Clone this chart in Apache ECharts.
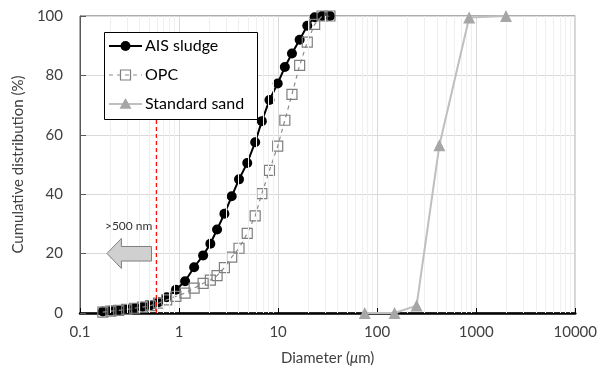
<!DOCTYPE html>
<html>
<head>
<meta charset="utf-8">
<script src="https://cdn.jsdelivr.net/npm/echarts@6/dist/echarts.min.js"></script>
<style>
  html, body { margin: 0; padding: 0; background: #ffffff; }
  #chart { width: 600px; height: 375px; }
</style>
</head>
<body>
<div id="chart"></div>
<script>
// Particle size bins (µm) of the laser diffraction measurement
const diameterBins = [0.17, 0.205, 0.246, 0.296, 0.356, 0.428, 0.515, 0.62, 0.75, 0.93,
  1.15, 1.42, 1.75, 2.07, 2.42, 2.87, 3.40, 4.03, 4.88, 5.87,
  6.85, 8.18, 9.91, 11.7, 13.8, 16.5, 19.7, 23.4, 27.8, 33.4];

// Cumulative passing (%) per bin
const aisSludge = [0.5, 0.8, 1.0, 1.3, 1.7, 2.1, 2.6, 3.6, 5.3, 7.8,
  10.7, 15.4, 19.4, 23.3, 28.1, 33.4, 39.3, 45.0, 50.5, 57.5,
  64.6, 71.7, 77.3, 82.8, 87.4, 92.0, 96.7, 99.6, 100, 100];
const opc = [0.3, 0.6, 0.9, 1.2, 1.6, 2.0, 2.5, 3.3, 4.4, 5.6,
  6.7, 8.4, 10.0, 11.1, 12.6, 15.3, 18.8, 21.8, 26.8, 32.7,
  40.2, 48.0, 56.2, 64.9, 73.6, 83.4, 91.2, 97.2, 100, 100];

// Standard sand sieve analysis
const sandSieve = [75, 150, 250, 425, 850, 2000];
const sandPassing = [0, 0, 2.5, 56.5, 99.5, 100];

// 500 nm marker line
const cutoffDiameter = 0.59;
const cutoffSpan = [0, 65];

// Axis settings
const xMin = 0.1, xMax = 10000;

// Light vertical lines at 2..9 of every decade
const minorLines = [];
for (let d = xMin; d < xMax; d *= 10) {
  for (let m = 2; m <= 9; m++) minorLines.push(+(d * m).toPrecision(3));
}

const pair = (xs, ys) => xs.map((x, i) => [x, ys[i]]);

const FONT = 'Lato';
const TEXT = '#404040';

// Series styles, shared by the plot and its legend
const styles = {
  ais: { symbol: 'circle', size: 10, fill: '#000000', stroke: null, line: '#000000', lineWidth: 2, dash: null },
  opc: { symbol: 'rect', size: 10, fill: 'rgba(255,255,255,0)', stroke: '#7f7f7f', line: '#8c8c8c', lineWidth: 1.2, dash: [4, 4] },
  sand: { symbol: 'triangle', size: 12, fill: '#a6a6a6', stroke: null, line: '#bfbfbf', lineWidth: 2, dash: null }
};

const chart = echarts.init(document.getElementById('chart'), null, { renderer: 'canvas' });

const option = {
  animation: false,
  textStyle: { fontFamily: FONT },
  grid: {
    left: 80, right: 22, top: 16, bottom: 62,
    show: true, borderColor: '#595959', borderWidth: 1, backgroundColor: 'transparent'
  },
  xAxis: {
    type: 'log', logBase: 10, min: xMin, max: xMax,
    name: 'Diameter ({i|μ}m)',
    nameLocation: 'middle', nameGap: 38,
    nameTextStyle: {
      fontFamily: FONT, fontSize: 15, color: TEXT,
      rich: { i: { fontFamily: FONT, fontSize: 15, fontStyle: 'italic', color: TEXT } }
    },
    axisLine: { onZero: false, lineStyle: { color: '#000000', width: 2.5 } },
    axisTick: { inside: true, length: 5, lineStyle: { color: '#000000' } },
    axisLabel: {
      margin: 12, fontFamily: FONT, fontSize: 15, color: TEXT,
      formatter: v => String(+v.toPrecision(6))
    },
    splitLine: { show: true, lineStyle: { color: '#d9d9d9', width: 1 } }
  },
  yAxis: {
    type: 'value', min: 0, max: 100, interval: 20,
    name: 'Cumulative distribution (%)',
    nameLocation: 'middle', nameGap: 52,
    nameTextStyle: { fontFamily: FONT, fontSize: 15, color: TEXT },
    axisLine: { show: true, lineStyle: { color: '#595959', width: 1 } },
    axisTick: { show: true, inside: true, length: 6, lineStyle: { color: '#595959' } },
    axisLabel: { margin: 17, fontFamily: FONT, fontSize: 15, color: TEXT },
    splitLine: { show: true, lineStyle: { color: '#d9d9d9', width: 1 } }
  },
  series: [
    {
      name: 'minor-grid', type: 'line', data: [], silent: true, z: 1,
      markLine: {
        silent: true, symbol: 'none', label: { show: false },
        lineStyle: { color: '#efefef', type: 'solid', width: 1 },
        emphasis: { disabled: true },
        data: minorLines.map(v => ({ xAxis: v }))
      }
    },
    {
      name: 'AIS sludge', type: 'line', z: 3,
      data: pair(diameterBins, aisSludge),
      symbol: styles.ais.symbol, symbolSize: styles.ais.size,
      itemStyle: { color: styles.ais.fill },
      lineStyle: { color: styles.ais.line, width: styles.ais.lineWidth }
    },
    {
      name: 'OPC', type: 'line', z: 4,
      data: pair(diameterBins, opc),
      symbol: styles.opc.symbol, symbolSize: styles.opc.size,
      itemStyle: { color: styles.opc.fill, borderColor: styles.opc.stroke, borderWidth: 1.2 },
      lineStyle: { color: styles.opc.line, width: styles.opc.lineWidth, type: styles.opc.dash }
    },
    {
      name: 'Standard sand', type: 'line', z: 5,
      data: pair(sandSieve, sandPassing),
      symbol: styles.sand.symbol, symbolSize: styles.sand.size,
      itemStyle: { color: styles.sand.fill },
      lineStyle: { color: styles.sand.line, width: styles.sand.lineWidth }
    },
    {
      name: 'cutoff', type: 'line', z: 6, silent: true,
      data: cutoffSpan.map(y => [cutoffDiameter, y]),
      symbol: 'none',
      lineStyle: { color: '#ff0000', width: 1.2, type: [4, 3] }
    }
  ]
};
chart.setOption(option);

// Block arrow pointing towards the finer fraction, placed in data coordinates
const arrowX = [0.187, 0.262, 0.527];        // tip, head base, tail
const arrowY = [15.0, 17.5, 22.4, 25.1];     // head bottom, shaft bottom, shaft top, head top
const P = (x, y) => chart.convertToPixel({ gridIndex: 0 }, [x, y]);
const arrowPts = [
  P(arrowX[0], (arrowY[0] + arrowY[3]) / 2),
  P(arrowX[1], arrowY[3]),
  P(arrowX[1], arrowY[2]),
  P(arrowX[2], arrowY[2]),
  P(arrowX[2], arrowY[1]),
  P(arrowX[1], arrowY[1]),
  P(arrowX[1], arrowY[0])
];
const labelPos = P(0.31, 29.1);

// Boxed legend: line sample with marker, then the series name
const legendItems = [
  { name: 'AIS sludge', s: styles.ais },
  { name: 'OPC', s: styles.opc },
  { name: 'Standard sand', s: styles.sand }
];
const legendBox = { x: 104, y: 32, w: 153, h: 87 };
const rowGap = 29, iconW = 33;
const legendGraphics = [{
  type: 'rect', z: 20,
  shape: { x: legendBox.x + 0.5, y: legendBox.y + 0.5, width: legendBox.w, height: legendBox.h },
  style: { fill: '#ffffff', stroke: '#000000', lineWidth: 1 }
}];
legendItems.forEach((it, i) => {
  const cy = legendBox.y + 14 + i * rowGap;
  const x0 = legendBox.x + 5, x1 = x0 + iconW, cx = (x0 + x1) / 2;
  const s = it.s;
  legendGraphics.push({
    type: 'line', z: 21,
    shape: { x1: x0, y1: cy, x2: x1, y2: cy },
    style: { stroke: s.line, lineWidth: s.lineWidth, lineDash: s.dash || null }
  });
  const h = s.size / 2;
  if (s.symbol === 'circle') {
    legendGraphics.push({ type: 'circle', z: 22, shape: { cx, cy, r: h }, style: { fill: s.fill } });
  } else if (s.symbol === 'rect') {
    legendGraphics.push({ type: 'rect', z: 22, shape: { x: cx - h, y: cy - h, width: s.size, height: s.size },
      style: { fill: 'rgba(255,255,255,0)', stroke: s.stroke, lineWidth: 1.2 } });
  } else {
    legendGraphics.push({ type: 'polygon', z: 22,
      shape: { points: [[cx, cy - h], [cx + h, cy + h * 0.8], [cx - h, cy + h * 0.8]] },
      style: { fill: s.fill } });
  }
  legendGraphics.push({
    type: 'text', z: 22, x: x1 + 3, y: cy,
    style: { text: it.name, fontFamily: FONT, fontSize: 16, fill: '#000000', textVerticalAlign: 'middle' }
  });
});

chart.setOption({
  graphic: [
    {
      type: 'polygon', z: 10,
      shape: { points: arrowPts },
      style: { fill: '#d0d0d0', stroke: '#7f7f7f', lineWidth: 1 }
    },
    {
      type: 'text', z: 10,
      x: labelPos[0], y: labelPos[1],
      style: {
        text: '>500 nm', fontFamily: FONT, fontSize: 12, fill: '#333333',
        textAlign: 'center', textVerticalAlign: 'middle'
      }
    }
  ].concat(legendGraphics)
});
</script>
</body>
</html>
